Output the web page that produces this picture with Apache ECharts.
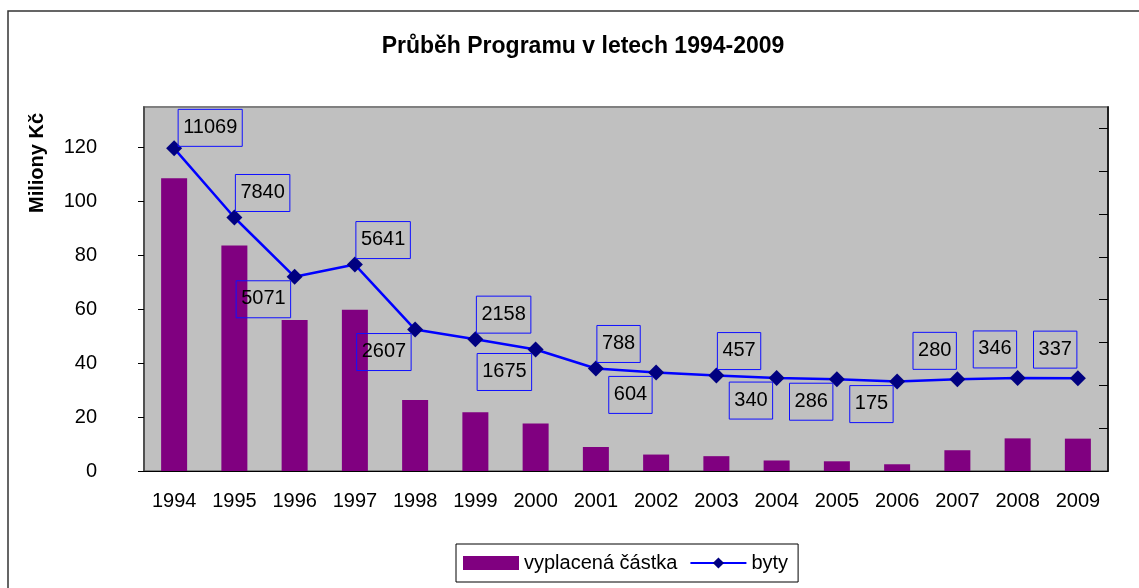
<!DOCTYPE html>
<html>
<head>
<meta charset="utf-8">
<script src="https://cdn.jsdelivr.net/npm/echarts@6/dist/echarts.min.js"></script>
<style>
  html, body { margin: 0; padding: 0; background: #fff; }
  #chart { width: 1139px; height: 588px; }
</style>
</head>
<body>
<div id="chart"></div>
<script>
// data
const years = ['1994', '1995', '1996', '1997', '1998', '1999', '2000', '2001',
  '2002', '2003', '2004', '2005', '2006', '2007', '2008', '2009'];
const paid = [108.6, 83.6, 56.0, 59.8, 26.3, 21.8, 17.6, 8.9,
  6.1, 5.5, 3.9, 3.6, 2.5, 7.7, 12.1, 12.0];   // vyplacená částka (mil. Kč)
const flats = [11069, 7840, 5071, 5641, 2607, 2158, 1675, 788,
  604, 457, 340, 286, 175, 280, 346, 337];     // byty
const leftTicks = [0, 20, 40, 60, 80, 100, 120];
const rightTicks = [-4000, -2000, 0, 2000, 4000, 6000, 8000, 10000, 12000];

// where each label box sits relative to its marker
const labelPlace = ['ur', 'ur', 'dl', 'ur', 'dl', 'ur', 'dl', 'ur',
  'dl', 'ur', 'dl', 'dl', 'dl', 'ul', 'ul', 'ul'];
const placeStyle = {
  ur: { align: 'left', verticalAlign: 'bottom', offset: [1, -6] },
  dl: { align: 'right', verticalAlign: 'top', offset: [-4, 4] },
  ul: { align: 'right', verticalAlign: 'bottom', offset: [-1, -10] }
};

const font = 'Liberation Sans, Arial, sans-serif';

const lineData = flats.map((v, i) => ({
  value: v,
  label: placeStyle[labelPlace[i]]
}));
lineData[0].label = { align: 'left', verticalAlign: 'bottom', offset: [4, -2] };

const chart = echarts.init(document.getElementById('chart'));

const option = {
  animation: false,
  textStyle: { fontFamily: font, color: '#000' },
  title: {
    text: 'Průběh Programu v letech 1994-2009',
    left: 578,
    top: 30,
    textAlign: 'center',
    textStyle: { fontFamily: font, fontSize: 23, fontWeight: 'bold', color: '#000' }
  },
  legend: {
    left: 456,
    top: 544,
    padding: [9, 10, 9, 7],
    itemGap: 12,
    itemWidth: 56,
    itemHeight: 14,
    borderColor: '#000',
    borderWidth: 1,
    textStyle: { fontFamily: font, fontSize: 20, color: '#000' },
    data: [
      { name: 'vyplacená částka', icon: 'rect' },
      { name: 'byty' }
    ]
  },
  grid: {
    left: 144,
    right: 31,
    top: 107,
    bottom: 117,
    show: true,
    backgroundColor: '#C0C0C0',
    borderColor: '#808080',
    borderWidth: 2,
    containLabel: false,
    outerBoundsMode: 'none'
  },
  xAxis: {
    type: 'category',
    data: years,
    axisLine: { lineStyle: { color: '#000', width: 1 } },
    axisTick: { length: 6, lineStyle: { color: '#000' } },
    axisLabel: { interval: 0, margin: 20, fontSize: 20, color: '#000', fontFamily: font }
  },
  yAxis: [
    {
      type: 'value',
      min: 0,
      max: 135,
      splitLine: { show: false },
      axisLine: { show: true, lineStyle: { color: '#404040', width: 1.5 } },
      axisTick: { show: true, length: 6, customValues: leftTicks, lineStyle: { color: '#000' } },
      axisLabel: { customValues: leftTicks, margin: 47, fontSize: 20, color: '#000', fontFamily: font }
    },
    {
      type: 'value',
      position: 'right',
      min: -4000,
      max: 13000,
      splitLine: { show: false },
      axisLine: { show: true, lineStyle: { color: '#000', width: 1.5 } },
      axisTick: { show: true, inside: true, length: 9, customValues: rightTicks, lineStyle: { color: '#000' } },
      axisLabel: { show: false }
    }
  ],
  series: [
    {
      name: 'vyplacená částka',
      type: 'bar',
      yAxisIndex: 0,
      barWidth: 26,
      itemStyle: { color: '#800080' },
      emphasis: { disabled: true },
      data: paid
    },
    {
      name: 'byty',
      type: 'line',
      yAxisIndex: 1,
      symbol: 'diamond',
      symbolSize: 16,
      itemStyle: { color: '#000080' },
      lineStyle: { color: '#0000FF', width: 2.5 },
      emphasis: { disabled: true },
      z: 3,
      label: {
        show: true,
        position: 'inside',
        fontFamily: font,
        fontSize: 20,
        color: '#000',
        borderColor: '#1010FF',
        borderWidth: 1,
        padding: [8, 5, 9, 5]
      },
      data: lineData
    }
  ],
  graphic: [
    {
      type: 'text',
      x: 37,
      y: 163,
      rotation: Math.PI / 2,
      style: {
        text: 'Miliony Kč',
        font: 'bold 20px ' + font,
        fill: '#000',
        textAlign: 'center',
        textVerticalAlign: 'middle'
      }
    },
    {
      type: 'rect',
      shape: { x: 8, y: 11, width: 1200, height: 700 },
      style: { fill: 'none', stroke: '#333', lineWidth: 1.5 },
      silent: true
    }
  ]
};

chart.setOption(option);
</script>
</body>
</html>
